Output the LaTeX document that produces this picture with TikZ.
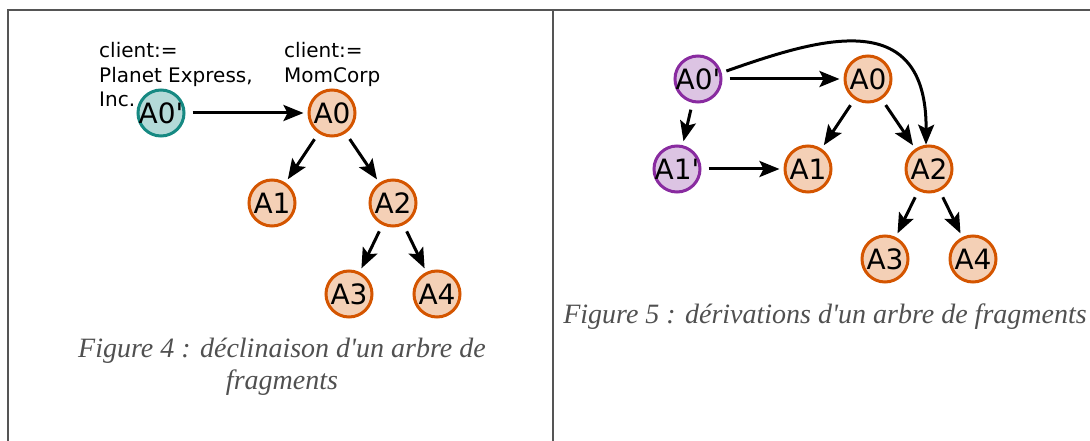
\documentclass[tikz,border=0pt]{standalone}
\usepackage{fontspec}
\setmainfont{Liberation Serif}[Ligatures=TeXOff]
\newfontfamily\nodefont{DejaVu Sans}[Ligatures=TeXOff]
\usetikzlibrary{arrows.meta}
\definecolor{framegray}{RGB}{85,85,85}
\definecolor{capgray}{RGB}{80,80,80}
\definecolor{fragline}{RGB}{212,85,0}
\definecolor{fragfill}{RGB}{244,208,182}
\definecolor{tealline}{RGB}{22,137,130}
\definecolor{tealfill}{RGB}{180,218,216}
\definecolor{plumline}{RGB}{137,43,160}
\definecolor{plumfill}{RGB}{220,196,227}

\tikzset{
  frag/.style={circle, draw=fragline, fill=fragfill, line width=3pt, minimum size=46pt, inner sep=0pt,
    font=\nodefont\fontsize{28}{28}\selectfont},
  fragclone/.style={frag, draw=tealline, fill=tealfill},
  fragderiv/.style={frag, draw=plumline, fill=plumfill},
  link/.style={-{Stealth[length=20pt,width=16pt,inset=4pt]}, line width=3pt, shorten <=7pt, shorten >=4pt},
  note/.style={font=\nodefont\fontsize{20}{24.5}\selectfont, align=left, anchor=base west, inner sep=0pt},
  caption/.style={font=\itshape\fontsize{28}{32}\selectfont, text=capgray, align=center}
}

\begin{document}
\begin{tikzpicture}[x=1pt, y=-1pt]
  \useasboundingbox (0,0) rectangle (1090,441);

  % table frame
  \draw[framegray, line width=2.7pt] (8,441) -- (8,10) -- (1090,10);
  \draw[framegray, line width=2.7pt] (553,10) -- (553,441);

  % Figure 4: declined tree
  \node[fragclone] (l0p) at (161,113) {\makebox[0pt]{A0'}};
  \node[frag] (l0) at (332,113) {\makebox[0pt]{A0}};
  \node[frag] (l1) at (272,203) {\makebox[0pt]{A1}};
  \node[frag] (l2) at (393,203) {\makebox[0pt]{A2}};
  \node[frag] (l3) at (349,294) {\makebox[0pt]{A3}};
  \node[frag] (l4) at (437,294) {\makebox[0pt]{A4}};

  % labels anchored on their last baseline
  \node[note] (lnotep) at (99,107) {client:=\\Planet Express,\\Inc.};
  \node[note] (lnote) at (284,82.5) {client:=\\MomCorp};

  \draw[link] (l0p) -- (l0);
  \draw[link] (l0) -- (l1);
  \draw[link] (l0) -- (l2);
  \draw[link] (l2) -- (l3);
  \draw[link] (l2) -- (l4);

  \node[caption] (cap4) at (282,367) {Figure 4 : déclinaison d'un arbre de\\fragments};

  % Figure 5: derived trees
  \node[fragderiv] (r0p) at (698,79) {\makebox[0pt]{A0'}};
  \node[fragderiv] (r1p) at (677,169) {\makebox[0pt]{A1'}};
  \node[frag] (r0) at (868,79) {\makebox[0pt]{A0}};
  \node[frag] (r1) at (808,169) {\makebox[0pt]{A1}};
  \node[frag] (r2) at (929,169) {\makebox[0pt]{A2}};
  \node[frag] (r3) at (885,259) {\makebox[0pt]{A3}};
  \node[frag] (r4) at (973,259) {\makebox[0pt]{A4}};

  \draw[link] (r0p) -- (r0);
  \draw[link] (r0p) -- (r1p);
  \draw[link] (r1p) -- (r1);
  \draw[link] (r0) -- (r1);
  \draw[link] (r0) -- (r2);
  \draw[link] (r2) -- (r3);
  \draw[link] (r2) -- (r4);
  \draw[link, shorten <=5pt, shorten >=0pt] (r0p.15) .. controls (815,40) and (927,3) .. (r2.97);

  \node[caption] (cap5) at (825,317) {Figure 5 : dérivations d'un arbre de fragments};
\end{tikzpicture}
\end{document}
